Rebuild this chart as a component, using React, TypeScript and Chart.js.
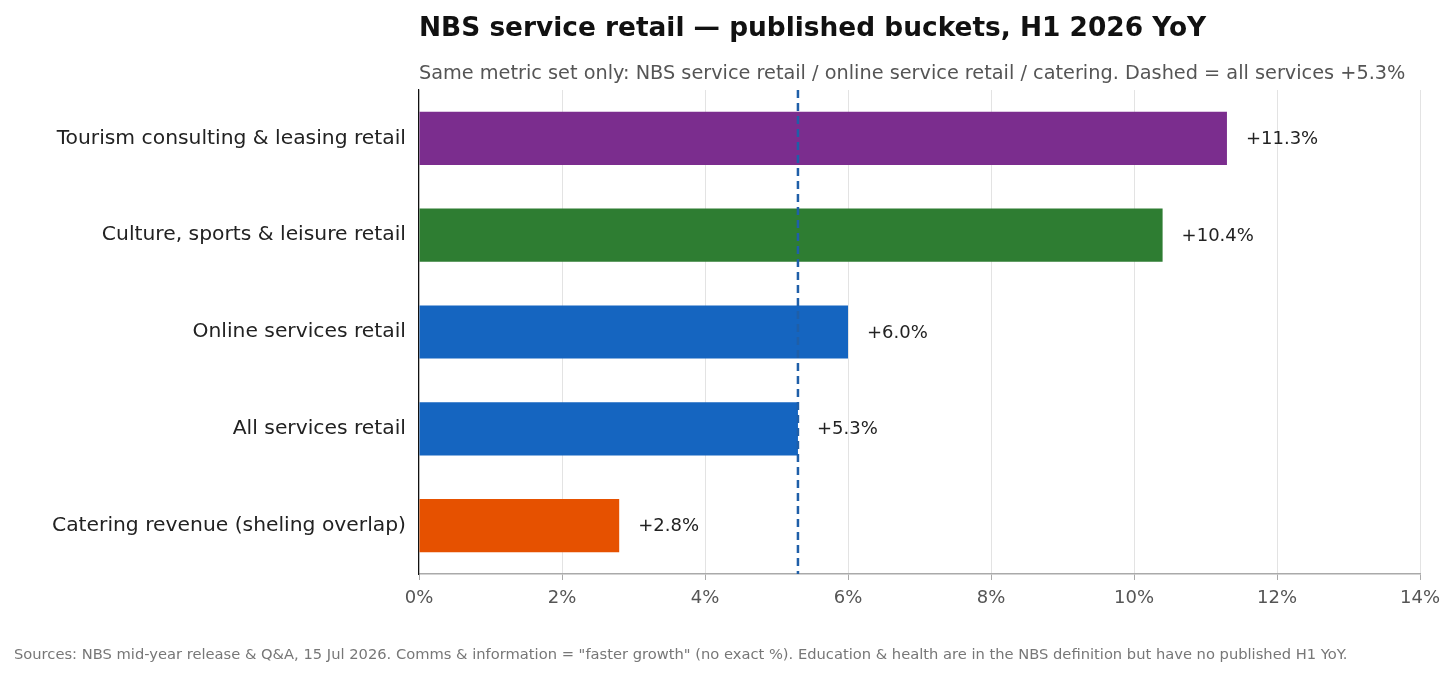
import React, { useEffect, useRef } from 'react';
import { Chart, registerables, Plugin } from 'chart.js';

Chart.register(...registerables);

const categories = [
  'Tourism consulting & leasing retail',
  'Culture, sports & leisure retail',
  'Online services retail',
  'All services retail',
  'Catering revenue (sheling overlap)',
];
const yoyValues = [11.3, 10.4, 6.0, 5.3, 2.8];
const barColors = ['#7b2d8e', '#2e7d32', '#1565c0', '#1565c0', '#e65100'];
const benchmark = 5.3;
const xTicks = [0, 2, 4, 6, 8, 10, 12, 14];

const titleText = 'NBS service retail \u2014 published buckets, H1 2026 YoY';
const subtitleText =
  'Same metric set only: NBS service retail / online service retail / catering. Dashed = all services +5.3%';
const footerText =
  'Sources: NBS mid-year release & Q&A, 15 Jul 2026. Comms & information = "faster growth" (no exact %). Education & health are in the NBS definition but have no published H1 YoY.';

const FONT = '"DejaVu Sans", sans-serif';

// dashed benchmark line, value labels, titles and footer
const overlayPlugin: Plugin<'bar'> = {
  id: 'overlay',
  afterDatasetsDraw(chart) {
    const { ctx, chartArea, scales } = chart;
    const x = scales.x.getPixelForValue(benchmark);
    ctx.save();
    ctx.strokeStyle = '#1f5fa8';
    ctx.lineWidth = 2.5;
    ctx.setLineDash([8, 5]);
    ctx.beginPath();
    ctx.moveTo(x, chartArea.top);
    ctx.lineTo(x, chartArea.bottom);
    ctx.stroke();
    ctx.setLineDash([]);

    const meta = chart.getDatasetMeta(0);
    ctx.fillStyle = '#222';
    ctx.font = `18px ${FONT}`;
    ctx.textAlign = 'left';
    ctx.textBaseline = 'middle';
    meta.data.forEach((bar, i) => {
      const v = yoyValues[i];
      ctx.fillText(`+${v.toFixed(1)}%`, bar.x + 19, bar.y + 1);
    });

    ctx.textBaseline = 'alphabetic';
    ctx.fillStyle = '#111';
    ctx.font = `bold 26.4px ${FONT}`;
    ctx.fillText(titleText, chartArea.left, 36);
    ctx.fillStyle = '#555';
    ctx.font = `19.3px ${FONT}`;
    ctx.fillText(subtitleText, chartArea.left, 79);
    ctx.fillStyle = '#777';
    ctx.font = `14.7px ${FONT}`;
    ctx.fillText(footerText, 14, 659);
    ctx.restore();
  },
};

const ServiceRetailChart: React.FC = () => {
  const canvasRef = useRef<HTMLCanvasElement | null>(null);
  const chartInstance = useRef<Chart | null>(null);

  useEffect(() => {
    if (!canvasRef.current) return;
    if (chartInstance.current) chartInstance.current.destroy();

    chartInstance.current = new Chart(canvasRef.current, {
      type: 'bar',
      data: {
        labels: categories,
        datasets: [
          {
            data: yoyValues,
            backgroundColor: barColors,
            categoryPercentage: 1,
            barPercentage: 0.55,
          },
        ],
      },
      options: {
        indexAxis: 'y',
        animation: false,
        responsive: true,
        maintainAspectRatio: false,
        layout: { padding: { top: 90, bottom: 61, left: 0, right: 36 } },
        plugins: {
          legend: { display: false },
          tooltip: { enabled: false },
          title: { display: false },
        },
        scales: {
          x: {
            min: 0,
            max: 14,
            afterBuildTicks: (scale) => {
              scale.ticks = xTicks.map((v) => ({ value: v }));
            },
            afterFit: (scale) => {
              scale.height = 40;
            },
            ticks: {
              color: '#555',
              font: { family: FONT, size: 18 },
              padding: 8,
              callback: (v) => `${v}%`,
            },
            grid: {
              color: '#e3e3e3',
              lineWidth: 1,
              tickLength: 6,
              tickColor: '#aaa',
            },
            border: { color: '#aaa', width: 1.5 },
          },
          y: {
            afterFit: (scale) => {
              scale.width = 419;
            },
            ticks: {
              color: '#222',
              font: { family: FONT, size: 20.3 },
              padding: 5,
            },
            grid: { display: false },
            border: { color: '#111', width: 1.2 },
          },
        },
      },
      plugins: [overlayPlugin],
    });

    return () => {
      if (chartInstance.current) {
        chartInstance.current.destroy();
        chartInstance.current = null;
      }
    };
  }, []);

  return (
    <div style={{ position: 'fixed', left: 0, top: 0, width: '1456px', height: '675px', background: '#fff' }}>
      <canvas ref={canvasRef} />
    </div>
  );
};

export default function App() {
  return <ServiceRetailChart />;
}
